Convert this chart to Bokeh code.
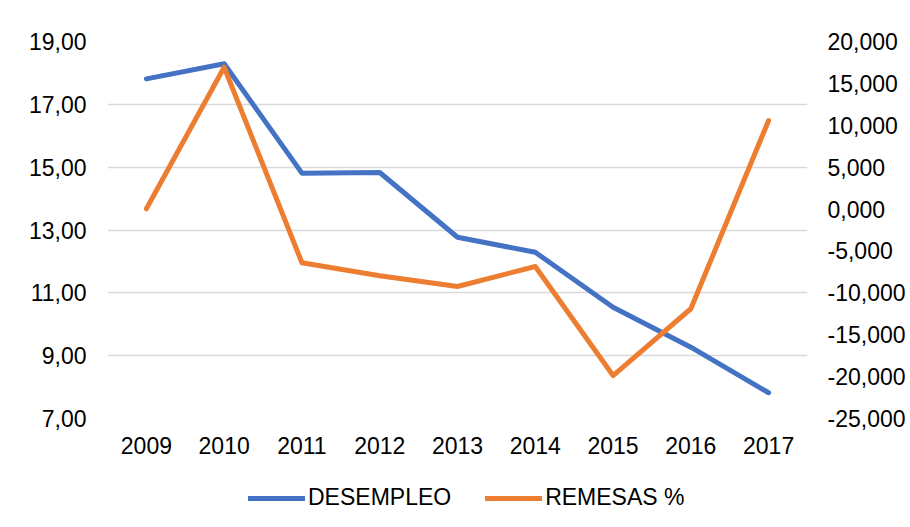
from bokeh.plotting import figure
from bokeh.layouts import column
from bokeh.models import Range1d, LinearAxis, FixedTicker, Legend, LegendItem
from bokeh.embed import file_html
from bokeh.resources import INLINE

years = ["2009", "2010", "2011", "2012", "2013", "2014", "2015", "2016", "2017"]
desempleo = [17.81, 18.29, 14.81, 14.83, 12.77, 12.29, 10.54, 9.27, 7.82]
remesas = [30, 16930, -6410, -7950, -9240, -6860, -19870, -11900, 10570]

left_ticks = [7, 9, 11, 13, 15, 17, 19]
left_labels = ["7,00", "9,00", "11,00", "13,00", "15,00", "17,00", "19,00"]
right_ticks = [-25000, -20000, -15000, -10000, -5000, 0, 5000, 10000, 15000, 20000]
right_labels = ["-25,000", "-20,000", "-15,000", "-10,000", "-5,000", "0,000",
                "5,000", "10,000", "15,000", "20,000"]
series_names = ["DESEMPLEO", "REMESAS %"]

BLUE = "#4472C4"
ORANGE = "#ED7D31"
FONT = "Liberation Sans"
FS = "23px"
LW = 5
W = 910

p = figure(width=W, height=463, x_range=years, y_range=Range1d(7, 19),
           output_backend="svg", toolbar_location=None,
           min_border_left=107, min_border_right=103, min_border_top=41,
           min_border_bottom=45)
p.extra_y_ranges = {"rem": Range1d(-25000, 20000)}
p.outline_line_color = None
p.background_fill_color = "white"
p.border_fill_color = "white"

p.x_range.range_padding = 0
p.xgrid.grid_line_color = None
p.ygrid.grid_line_color = "#d9d9d9"
p.ygrid.grid_line_width = 1.3
p.ygrid.ticker = FixedTicker(ticks=left_ticks)


def style_axis(ax, standoff):
    ax.axis_line_color = None
    ax.major_tick_line_color = None
    ax.minor_tick_line_color = None
    ax.major_tick_out = 0
    ax.major_tick_in = 0
    ax.minor_tick_out = 0
    ax.major_label_standoff = standoff
    ax.major_label_text_font = FONT
    ax.major_label_text_font_size = FS
    ax.major_label_text_color = "black"


ya = p.yaxis[0]
ya.ticker = FixedTicker(ticks=left_ticks)
ya.major_label_overrides = {t: l for t, l in zip(left_ticks, left_labels)}
style_axis(ya, 21)

ra = LinearAxis(y_range_name="rem", ticker=FixedTicker(ticks=right_ticks))
ra.major_label_overrides = {t: l for t, l in zip(right_ticks, right_labels)}
style_axis(ra, 20)
p.add_layout(ra, "right")

style_axis(p.xaxis[0], 18)

p.line(years, desempleo, line_color=BLUE, line_width=LW,
       line_cap="round", line_join="round")
p.line(years, remesas, line_color=ORANGE, line_width=LW,
       line_cap="round", line_join="round", y_range_name="rem")

# legend strip (its frame is aligned with the main plot's frame)
lg = figure(width=W, height=60, x_range=Range1d(0, 1), y_range=Range1d(0, 1),
            output_backend="svg", toolbar_location=None,
            min_border_left=107, min_border_right=103,
            min_border_top=0, min_border_bottom=0)
lg.axis.visible = False
lg.grid.visible = False
lg.outline_line_color = None
lg.background_fill_color = "white"
lg.border_fill_color = "white"
# off-range proxy lines, only used for the legend swatches
d1 = lg.line([2, 3], [2, 3], line_color=BLUE, line_width=LW, line_cap="round")
d2 = lg.line([2, 3], [2, 3], line_color=ORANGE, line_width=LW, line_cap="round")

legend = Legend(items=[LegendItem(label=series_names[0], renderers=[d1]),
                       LegendItem(label=series_names[1], renderers=[d2])],
                orientation="horizontal", location=(141, 12))
legend.label_text_font = FONT
legend.label_text_font_size = FS
legend.label_text_color = "black"
legend.glyph_width = 57
legend.glyph_height = 24
legend.label_standoff = 3
legend.spacing = 34
legend.border_line_color = None
legend.background_fill_alpha = 0
legend.padding = 0
legend.margin = 0
lg.add_layout(legend, "center")

layout = column(p, lg, spacing=0)
open("out.html", "w").write(file_html(layout, INLINE))
